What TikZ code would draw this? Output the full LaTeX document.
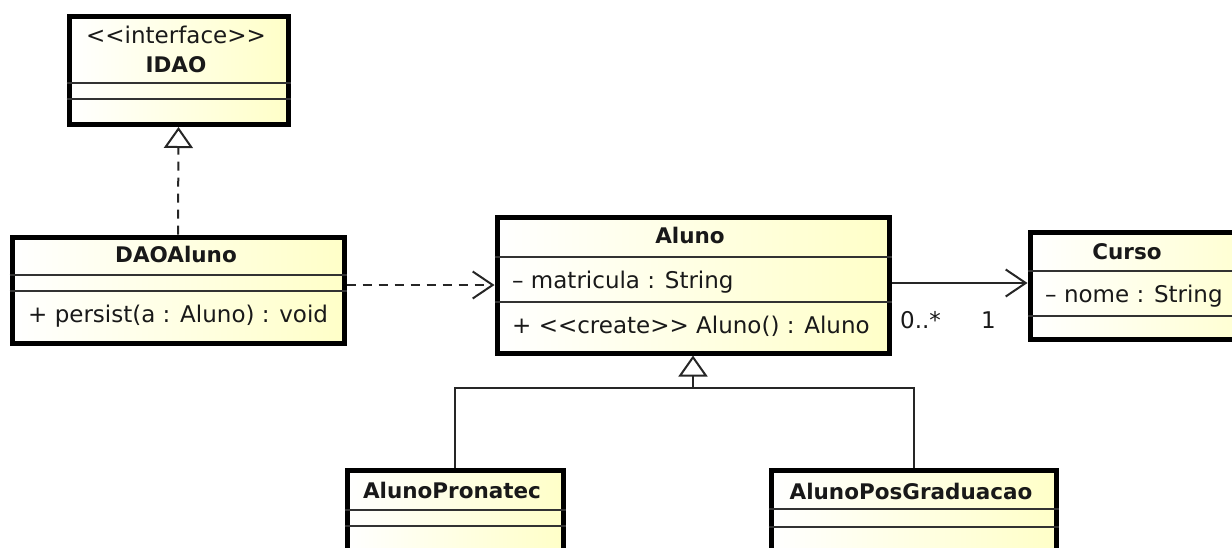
\documentclass[tikz,border=0pt]{standalone}
\usepackage{fontspec}
\setmainfont{DejaVu Sans}
\usetikzlibrary{arrows.meta}
\definecolor{umlyellow}{RGB}{255,255,200}
\definecolor{sepgray}{RGB}{50,50,50}
\definecolor{txtcol}{RGB}{25,25,25}
\begin{document}
\begin{tikzpicture}[x=1pt,y=-1pt,
  font=\fontsize{23}{27}\selectfont,
  classbox/.style={draw=black, line width=5pt, left color=white, right color=umlyellow,
    anchor=north west, inner sep=0pt, rectangle},
  sepline/.style={draw=sepgray, line width=2pt},
  txt/.style={inner sep=0pt, anchor=base west, text=txtcol},
  ctxt/.style={inner sep=0pt, anchor=base, text=txtcol},
  bname/.style={ctxt, font=\fontsize{21.5}{26}\selectfont\bfseries},
  conn/.style={line width=2pt, draw=black!85},
  realize/.style={conn, dash pattern=on 9pt off 7pt, -{Triangle[open, length=21pt, width=29pt]}},
  generalize/.style={conn, -{Triangle[open, length=21pt, width=29pt]}},
  depend/.style={conn, dash pattern=on 9pt off 7pt, -{Straight Barb[length=20pt, width=27pt]}},
  assoc/.style={conn, -{Straight Barb[length=20pt, width=27pt]}}
]
\useasboundingbox (0,0) rectangle (1232,547);
\clip (0,0) rectangle (1232,547);

% IDAO
\node[classbox, minimum width=219pt, minimum height=108pt] (idao) at (66.5,14) {};
\draw[sepline] (idao.west |- 0,83) -- (idao.east |- 0,83);
\draw[sepline] (idao.west |- 0,99) -- (idao.east |- 0,99);
\node[ctxt] (idaost) at (176,43) {<{}<interface>{}>};
\node[bname] (idaon) at (176,72) {IDAO};

% DAOAluno
\node[classbox, minimum width=332pt, minimum height=106pt] (daoaluno) at (9.5,234.5) {};
\draw[sepline] (daoaluno.west |- 0,275) -- (daoaluno.east |- 0,275);
\draw[sepline] (daoaluno.west |- 0,291) -- (daoaluno.east |- 0,291);
\node[bname] (daon) at (176,262) {DAOAluno};
\node[txt] (daom) at (28,322) {+ persist(a : Aluno) : void};

% Aluno
\node[classbox, minimum width=392pt, minimum height=136pt] (aluno) at (494.5,214.5) {};
\draw[sepline] (aluno.west |- 0,257) -- (aluno.east |- 0,257);
\draw[sepline] (aluno.west |- 0,302) -- (aluno.east |- 0,302);
\node[bname] (alunon) at (690,243) {Aluno};
\node[txt] (alunoa) at (512,288) {– matricula : String};
\node[txt] (alunom) at (512,333) {+ <{}<create>{}> Aluno() : Aluno};

% Curso
\node[classbox, minimum width=260pt, minimum height=107pt] (curso) at (1027.5,229.5) {};
\draw[sepline] (curso.west |- 0,271) -- (curso.east |- 0,271);
\draw[sepline] (curso.west |- 0,316) -- (curso.east |- 0,316);
\node[bname] (curson) at (1127,259) {Curso};
\node[txt] (cursoa) at (1045,302) {– nome : String};

% AlunoPronatec
\node[classbox, minimum width=216pt, minimum height=140pt] (pronatec) at (344.5,467.5) {};
\draw[sepline] (pronatec.west |- 0,510) -- (pronatec.east |- 0,510);
\draw[sepline] (pronatec.west |- 0,526) -- (pronatec.east |- 0,526);
\node[bname] (pronatecn) at (452,498) {AlunoPronatec};

% AlunoPosGraduacao
\node[classbox, minimum width=285pt, minimum height=140pt] (posgrad) at (768.5,467.5) {};
\draw[sepline] (posgrad.west |- 0,509) -- (posgrad.east |- 0,509);
\draw[sepline] (posgrad.west |- 0,527) -- (posgrad.east |- 0,527);
\node[bname] (posgradn) at (911,499) {AlunoPosGraduacao};

% connectors
\draw[realize] (daoaluno.north) -- (idao.south);
\draw[depend] (daoaluno.east |- 0,285) -- (aluno.west |- 0,285);
\draw[assoc] (aluno.east |- 0,283) -- (curso.west |- 0,283);
\node[txt] (mult1) at (900,328) {0..*};
\node[txt] (mult2) at (981,328) {1};

\coordinate (junc) at (aluno.south |- 0,388);
\draw[conn] (pronatec.north) |- (junc) -| (posgrad.north);
\draw[generalize] (junc) -- (aluno.south);
\end{tikzpicture}
\end{document}
